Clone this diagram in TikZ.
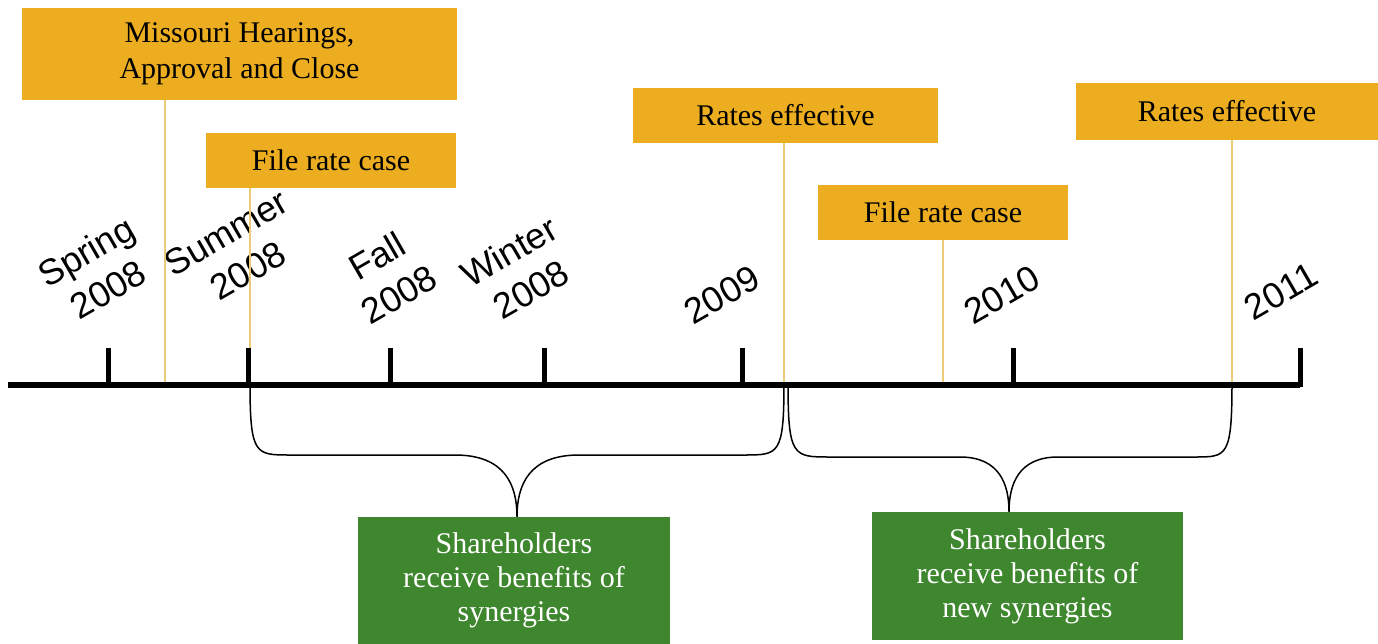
\documentclass[tikz,border=0pt]{standalone}
\usepackage{fontspec}
\setmainfont{Liberation Serif}
\setsansfont{Liberation Sans}
\usepackage{tikz}
\definecolor{gold}{RGB}{236,174,32}
\definecolor{leaf}{RGB}{62,135,46}
\definecolor{pale}{RGB}{233,203,120}

\begin{document}
\begin{tikzpicture}[x=1pt,y=-1pt,
	event/.style={fill=gold,align=center,inner sep=0pt,font=\fontsize{30}{36}\selectfont},
	gain/.style={fill=leaf,text=white,align=center,inner sep=0pt,font=\fontsize{30}{34}\selectfont},
	season/.style={rotate=30,align=center,font=\sffamily\fontsize{36}{44}\selectfont},
	notch/.style={line width=5pt},
	marker/.style={pale,line width=2pt},
	brace/.style={line width=1.5pt}]
	\useasboundingbox (0,0) rectangle (1378,644);
	% event boxes
	\node[event,minimum width=435,minimum height=92] (MH) at (239.5,54) {Missouri Hearings,\\Approval and Close};
	\node[event,minimum width=250,minimum height=55] (F1) at (331,160.5) {File rate case};
	\node[event,minimum width=305,minimum height=55] (R1) at (785.5,115.5) {Rates effective};
	\node[event,minimum width=250,minimum height=55] (F2) at (943,212.5) {File rate case};
	\node[event,minimum width=302,minimum height=57] (R2) at (1227,111.5) {Rates effective};
	% benefit boxes
	\node[gain,minimum width=312,minimum height=127] (G1) at (514,580.5) {Shareholders\\receive benefits of\\synergies};
	\node[gain,minimum width=311,minimum height=128] (G2) at (1027.5,576) {Shareholders\\receive benefits of\\new synergies};
	% season labels
	\node[season] (Sp) at (97,270) {Spring\\2008};
	\node[season] (Su) at (237,252) {Summer\\2008};
	\node[season] (Fa) at (388,275) {Fall\\2008};
	\node[season] (Wi) at (520,270) {Winter\\2008};
	\node[season] (Y9) at (722,295) {2009};
	\node[season] (Y10) at (1002,295) {2010};
	\node[season] (Y11) at (1281,291) {2011};
	%
	\coordinate (tMH) at (165,382);
	\coordinate (tF1) at (250,382);
	\coordinate (tR1) at (784,382);
	\coordinate (tF2) at (943,382);
	\coordinate (tR2) at (1232,382);
	\draw[marker] (MH.south -| tMH) -- (tMH);
	\draw[marker] (F1.south -| tF1) -- (tF1);
	\draw[marker] (R1.south -| tR1) -- (tR1);
	\draw[marker] (F2.south -| tF2) -- (tF2);
	\draw[marker] (R2.south -| tR2) -- (tR2);
	% time axis
	\draw[line width=6pt] (8,385) -- (1300,385);
	\foreach \x in {108,248,390,544,742,1013,1300}
		\draw[notch] (\x,387) -- (\x,348);
	% braces
	\draw[brace] (tF1) .. controls (250,455) and (255,455) .. (290,455) -- (455,455)
		.. controls (505,455) and (517,485) .. ([xshift=3pt]G1.north)
		.. controls (517,485) and (529,455) .. (579,455) -- (744,455)
		.. controls (779,455) and (784,455) .. (tR1);
	\draw[brace] ([xshift=4pt]tR1) .. controls (788,457) and (793,457) .. (830,457) -- (960,457)
		.. controls (1000,457) and (1009,485) .. ([xshift=-18.5pt]G2.north)
		.. controls (1009,485) and (1018,457) .. (1058,457) -- (1195,457)
		.. controls (1227,457) and (1232,457) .. (tR2);
\end{tikzpicture}
\end{document}
